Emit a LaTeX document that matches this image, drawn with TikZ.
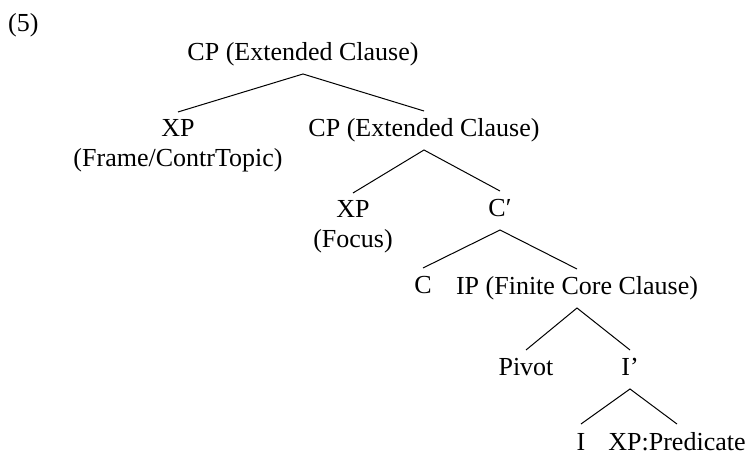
\documentclass[tikz,border=0pt]{standalone}
\usepackage{fontspec}
\setmainfont{Liberation Serif}
\begin{document}
\begin{tikzpicture}[x=1pt,y=-1pt,
  every node/.style={inner sep=0pt, font=\fontsize{26}{30}\selectfont},
  lab/.style={anchor=base, text height=18pt, text depth=5pt, outer ysep=8pt},
  leaf/.style={anchor=base, text height=18pt, text depth=0pt, outer ysep=8pt},
  labtwo/.style={anchor=base, align=center, outer ysep=8pt},
  branch/.style={line width=1pt}]
\useasboundingbox (0,0) rectangle (748,457);
\node[anchor=base west] (ex) at (8,32) {(5)};
\node[lab] (cp1) at (303,61) {CP (Extended Clause)};
\node[labtwo] (xp1) at (178,167) {XP\\(Frame/ContrTopic)};
\node[lab] (cp2) at (424,137) {CP (Extended Clause)};
\node[labtwo] (xp2) at (353,248) {XP\\(Focus)};
\node[lab] (cbar) at (500,217) {C′};
\node[lab] (c) at (423,294) {C};
\node[lab] (ip) at (577,295) {IP (Finite Core Clause)};
\node[lab] (pivot) at (526,376) {Pivot};
\node[lab] (ibar) at (630,376) {I’};
\node[leaf] (i) at (581,450) {I};
\node[leaf] (pred) at (677,450) {XP:Predicate};
\draw[branch] (xp1.north) -- (cp1.south) -- (cp2.north);
\draw[branch] (xp2.north) -- (cp2.south) -- (cbar.north);
\draw[branch] (c.north) -- (cbar.south) -- (ip.north);
\draw[branch] (pivot.north) -- (ip.south) -- (ibar.north);
\draw[branch] (i.north) -- (ibar.south) -- (pred.north);
\end{tikzpicture}
\end{document}
